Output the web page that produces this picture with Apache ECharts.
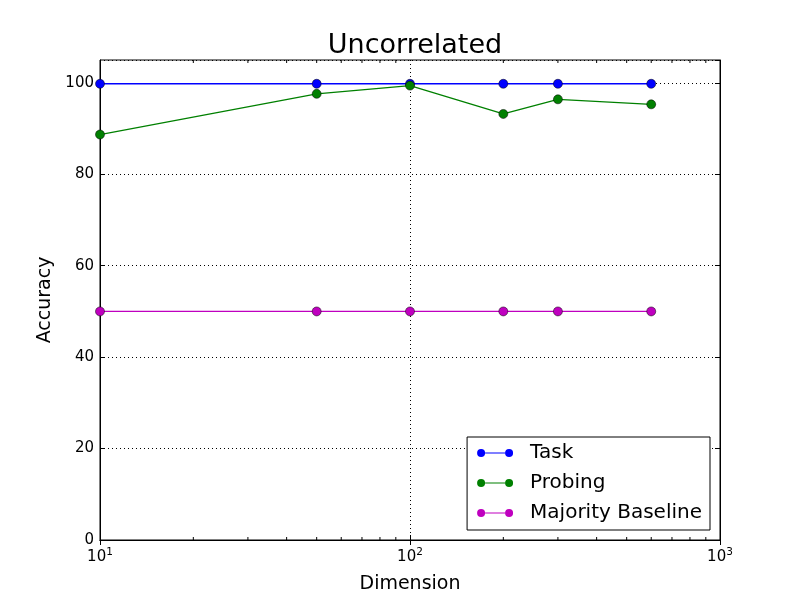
<!DOCTYPE html>
<html>
<head>
<meta charset="utf-8">
<script src="https://cdn.jsdelivr.net/npm/echarts@6/dist/echarts.min.js"></script>
<style>html,body{margin:0;padding:0;background:#fff}#c{width:800px;height:600px}</style>
</head>
<body>
<div id="c"></div>
<script>
const dimensions = [10, 50, 100, 200, 300, 600];
const taskAcc = [99.8, 99.8, 99.8, 99.8, 99.8, 99.8];
const probingAcc = [88.7, 97.6, 99.4, 93.2, 96.4, 95.3];
const baselineAcc = [50, 50, 50, 50, 50, 50];
const yTicks = [0, 20, 40, 60, 80, 100];
const minorXTicks = [20, 30, 40, 50, 60, 70, 80, 90, 200, 300, 400, 500, 600, 700, 800, 900];

const FONT = 'DejaVu Sans';
const chart = echarts.init(document.getElementById('c'), null, {renderer: 'canvas'});

function pairs(ys) { return dimensions.map((x, i) => [x, ys[i]]); }
const legendIcon = 'path://M0,4a4,4 0 1,0 8,0a4,4 0 1,0 -8,0Z M28,4a4,4 0 1,0 8,0a4,4 0 1,0 -8,0Z M8,3.4L28,3.4L28,4.6L8,4.6Z';

function lineSeries(name, color, ys) {
  return {
    name: name, type: 'line', data: pairs(ys),
    symbol: 'circle', symbolSize: 9,
    lineStyle: {color: color, width: 1.3},
    itemStyle: {color: color, borderColor: '#000', borderWidth: 0.5},
    emphasis: {disabled: true}, animation: false, z: 3
  };
}

const option = {
  animation: false,
  backgroundColor: '#fff',
  title: {
    text: 'Uncorrelated', left: 410, top: 27, textAlign: 'center',
    textStyle: {fontFamily: FONT, fontSize: 27, fontWeight: 'normal', color: '#000'}
  },
  grid: {left: 100, right: 80, top: 60, bottom: 60, show: true, borderColor: '#000', borderWidth: 1, backgroundColor: 'transparent'},
  legend: {
    data: ['Task', 'Probing', 'Majority Baseline'].map(n => ({name: n, icon: legendIcon, itemStyle: {borderWidth: 0}})),
    orient: 'vertical', right: 90, bottom: 70,
    itemWidth: 36, itemHeight: 8, itemGap: 10,
    padding: [6, 8, 7, 10],
    borderColor: '#000', borderWidth: 1, backgroundColor: '#fff',
    textStyle: {fontFamily: FONT, fontSize: 20, color: '#000', padding: [0, 0, 0, 12]}
  },
  xAxis: [{
    type: 'log', logBase: 10, min: 10, max: 1000,
    name: 'Dimension', nameLocation: 'middle', nameGap: 35,
    nameTextStyle: {fontFamily: FONT, fontSize: 19, color: '#000'},
    axisLine: {show: true, lineStyle: {color: '#000', width: 1}},
    axisTick: {show: true, inside: true, length: 5, lineStyle: {color: '#000'}},
    axisLabel: {
      margin: 7,
      formatter: v => '{b|10}{s|' + Math.round(Math.log10(v)) + '}',
      rich: {b: {fontFamily: FONT, fontSize: 15, color: '#000'}, s: {fontFamily: FONT, fontSize: 10.5, color: '#000', padding: [0, 0, 9, 0]}}
    },
    splitLine: {show: true, lineStyle: {color: '#000', type: [1, 3], width: 1}}
  }, {
    type: 'log', logBase: 10, min: 10, max: 1000, position: 'top',
    axisLine: {show: true, lineStyle: {color: '#000'}},
    axisTick: {show: true, inside: true, length: 5, lineStyle: {color: '#000'}},
    axisLabel: {show: false}, splitLine: {show: false}
  }],
  yAxis: [{
    type: 'value', min: 0, max: 105, interval: 20,
    name: 'Accuracy', nameLocation: 'middle', nameGap: 38, nameRotate: 90,
    nameTextStyle: {fontFamily: FONT, fontSize: 19, color: '#000'},
    axisLine: {show: true, lineStyle: {color: '#000'}},
    axisTick: {show: true, inside: true, length: 5, lineStyle: {color: '#000'}},
    axisLabel: {fontFamily: FONT, fontSize: 15, color: '#000', margin: 6, showMaxLabel: false,
      formatter: v => yTicks.includes(v) ? String(v) : ''},
    splitLine: {show: true, lineStyle: {color: '#000', type: [1, 3], width: 1}}
  }, {
    type: 'value', min: 0, max: 105, interval: 20, position: 'right',
    axisLine: {show: true, lineStyle: {color: '#000'}},
    axisTick: {show: true, inside: true, length: 5, lineStyle: {color: '#000'}},
    axisLabel: {show: false}, splitLine: {show: false}
  }],
  series: [
    lineSeries('Task', '#0000ff', taskAcc),
    lineSeries('Probing', '#008000', probingAcc),
    lineSeries('Majority Baseline', '#bf00bf', baselineAcc),
    {
      type: 'custom', silent: true, z: 2,
      data: minorXTicks.map(v => [v, 0]),
      renderItem: function (params, api) {
        const x = api.value(0);
        const b = api.coord([x, 0]);
        const t = api.coord([x, 105]);
        return {type: 'group', children: [
          {type: 'line', shape: {x1: b[0], y1: b[1], x2: b[0], y2: b[1] - 3}, style: {stroke: '#000', lineWidth: 1}},
          {type: 'line', shape: {x1: t[0], y1: t[1], x2: t[0], y2: t[1] + 3}, style: {stroke: '#000', lineWidth: 1}}
        ]};
      }
    }
  ]
};
chart.setOption(option);
</script>
</body>
</html>
